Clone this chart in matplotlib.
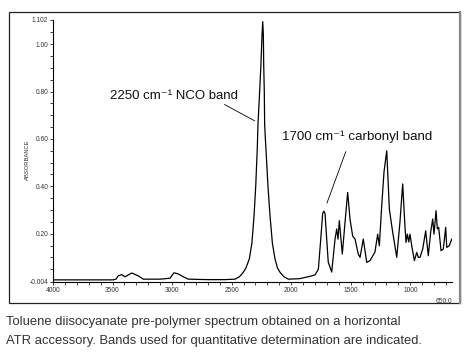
import matplotlib
matplotlib.use('Agg')
import matplotlib.pyplot as plt
import matplotlib.patches as patches
from matplotlib.lines import Line2D
import matplotlib.transforms as mtransforms

# Spectrum: wavenumber (cm-1) and absorbance
wavenumber = [4000, 3496, 3471, 3452, 3423, 3395, 3339, 3284, 3242, 3100, 3018,
              2984, 2948, 2906, 2864, 2700, 2560, 2472, 2435, 2402, 2380, 2352, 2330,
              2312, 2298, 2285, 2279, 2265, 2254, 2245, 2239, 2234, 2231, 2226, 2223,
              2218, 2212, 2195, 2178, 2158, 2136, 2115, 2094, 2060, 2024, 1930,
              1842, 1800, 1772, 1752, 1736, 1726, 1716, 1702, 1689, 1660, 1632, 1618,
              1607, 1596, 1571, 1548, 1526, 1506, 1484, 1464, 1437, 1422, 1395,
              1366, 1339, 1297, 1274, 1260, 1240, 1221, 1198, 1176, 1156, 1143,
              1114, 1087, 1064, 1047, 1036, 1025, 1013, 1003, 988, 966, 946, 933,
              919, 896, 871, 849, 829, 812, 801, 784, 773, 762, 742, 723, 703,
              694, 673, 652]
absorbance = [0.005, 0.005, 0.008, 0.022, 0.027, 0.018, 0.034, 0.022, 0.008, 0.008, 0.012,
              0.035, 0.030, 0.018, 0.008, 0.006, 0.006, 0.008, 0.018, 0.037, 0.055, 0.093, 0.160,
              0.276, 0.400, 0.557, 0.663, 0.800, 0.916, 1.040, 1.095, 1.040, 0.916, 0.800, 0.663,
              0.610, 0.557, 0.400, 0.276, 0.160, 0.093, 0.055, 0.037, 0.018, 0.008, 0.010,
              0.020, 0.026, 0.050, 0.177, 0.285, 0.295, 0.285, 0.177, 0.080, 0.038, 0.177, 0.220,
              0.177, 0.255, 0.114, 0.249, 0.374, 0.260, 0.190, 0.177, 0.114, 0.100, 0.177,
              0.079, 0.086, 0.122, 0.198, 0.149, 0.318, 0.460, 0.550, 0.304, 0.233, 0.191,
              0.100, 0.249, 0.410, 0.249, 0.163, 0.198, 0.165, 0.198, 0.149, 0.086, 0.121, 0.100,
              0.100, 0.135, 0.212, 0.107, 0.207, 0.262, 0.198, 0.297, 0.220, 0.227, 0.128, 0.135, 0.227,
              0.142, 0.149, 0.177]

x_major = [4000, 3500, 3000, 2500, 2000, 1500, 1000]
x_labels = ['4000', '3500', '3000', '2500', '2000', '1500', '1000']
y_major = [-0.004, 0.20, 0.40, 0.60, 0.80, 1.00, 1.102]
y_labels = ['-0.004', '0.20', '0.40', '0.60', '0.80', '1.00', '1.102']

caption_lines = ["Toluene diisocyanate pre-polymer spectrum obtained on a horizontal",
                 "ATR accessory. Bands used for quantitative determination are indicated."]

plt.rcParams['font.family'] = ['Liberation Sans', 'DejaVu Sans']

fig = plt.figure(figsize=(4.71, 3.60), dpi=100)
ax = fig.add_axes([53/471, 78/360, 399/471, 262/360])

ax.plot(wavenumber, absorbance, color='black', lw=0.9)
ax.set_xlim(4000, 650)
ax.set_ylim(-0.004, 1.102)

ax.set_xticks(x_major)
ax.set_xticklabels(x_labels)
ax.set_xticks(range(3900, 650, -100), minor=True)
ax.set_yticks(y_major)
ax.set_yticklabels(y_labels)
ax.set_yticks([0.05, 0.10, 0.15, 0.25, 0.30, 0.35, 0.45, 0.50, 0.55, 0.65, 0.70,
               0.75, 0.85, 0.90, 0.95, 1.05], minor=True)
ax.tick_params(which='both', direction='out', length=2.5, width=0.6, color='#222222',
               labelsize=4.8, labelcolor='#333333', pad=1)

for s in ['top', 'right']:
    ax.spines[s].set_visible(False)
for s in ['left', 'bottom']:
    ax.spines[s].set_linewidth(0.8)

# 650.0 end label under the axis
trans = mtransforms.blended_transform_factory(ax.transData, ax.transAxes)
ax.text(650, -0.06, '650.0', transform=trans, ha='right', va='top',
        fontsize=4.8, color='#333333')

fig.text(27/471, 1 - 160/360, 'ABSORBANCE', rotation=90, ha='center', va='center',
         fontsize=4.2, color='#333333')

# band annotations
ax.text(3521, 0.781, '2250 cm\u207b\u00b9 NCO band', fontsize=9.5, ha='left', va='center',
        color='#111111')
ax.annotate('', xy=(2287, 0.671), xytext=(2581, 0.751),
            arrowprops=dict(arrowstyle='-', color='black', lw=0.6))
ax.text(2077, 0.608, '1700 cm\u207b\u00b9 carbonyl band', fontsize=9.6, ha='left', va='center',
        color='#111111')
ax.annotate('', xy=(1708, 0.318), xytext=(1534, 0.557),
            arrowprops=dict(arrowstyle='-', color='black', lw=0.6))

# outer frame around the chart
frame = patches.Rectangle((9/471, 57/360), 451/471, 291/360, transform=fig.transFigure,
                          fill=False, edgecolor='#222222', lw=0.9)
fig.add_artist(frame)
fig.add_artist(Line2D([460/471, 460/471], [57/360, 348/360], transform=fig.transFigure,
                      color='#888888', lw=1.6))

# caption, two lines
for i, line in enumerate(caption_lines):
    fig.text(6/471, 1 - (322 + 19 * i)/360, line, ha='left', va='center',
             fontsize=9.4, color='#333333')

fig.savefig('out.png', dpi=100, facecolor='white')
